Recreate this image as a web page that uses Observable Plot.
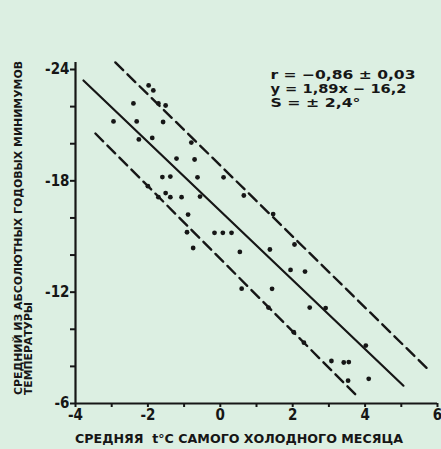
<!DOCTYPE html>
<html>
<head>
<meta charset="utf-8">
<script src="https://cdn.jsdelivr.net/npm/d3@7"></script>
<script src="https://cdn.jsdelivr.net/npm/@observablehq/plot@0.6"></script>
<style>
  html, body { margin: 0; padding: 0; background: #dcefe2; }
  #chart svg { display: block; }
</style>
</head>
<body>
<div id="chart"></div>
<script>
// ---- data ----
const pointX = [-1.98, -1.85, -2.40, -1.71, -1.51, -2.95, -2.31, -1.58, -2.25, -1.88,
                -0.80, -1.21, -0.71, -1.60, -1.38, -0.63, 0.09, -2.00, -1.71, -1.51,
                -1.38, -1.07, -0.56, 0.65, -0.89, 1.46, -0.92, -0.16, 0.07, 0.31,
                -0.75, 0.54, 1.37, 2.05, 1.94, 2.34, 0.59, 1.43, 1.33, 2.47,
                2.91, 2.03, 2.31, 4.02, 3.07, 3.41, 3.55, 3.53, 4.10];
const pointY = [-23.14, -22.87, -22.17, -22.17, -22.06, -21.20, -21.20, -21.17, -20.23, -20.31,
                -20.06, -19.20, -19.15, -18.20, -18.23, -18.19, -18.19, -17.71, -17.12, -17.34,
                -17.12, -17.12, -17.15, -17.21, -16.18, -16.21, -15.23, -15.20, -15.20, -15.20,
                -14.38, -14.17, -14.30, -14.57, -13.20, -13.11, -12.19, -12.18, -11.17, -11.17,
                -11.14, -9.84, -9.28, -9.12, -8.29, -8.21, -8.23, -7.23, -7.33];

// regression line y = 1.89x - 16.2 and the ±S band, endpoints as drawn
const fitX = [-3.78, 5.06];
const fitY = [-23.41, -6.96];
const upperX = [-2.90, 5.72];
const upperY = [-24.38, -7.88];
const lowerX = [-3.45, 3.82];
const lowerY = [-20.55, -6.32];

const xTicks = [-4, -3, -2, -1, 0, 1, 2, 3, 4, 5, 6];
const xTickLabels = ["-4", "", "-2", "", "0", "", "2", "", "4", "", "6"];
const yTicks = [-24, -22, -20, -18, -16, -14, -12, -10, -8, -6];
const yTickLabels = ["-24", "", "", "-18", "", "", "-12", "", "", "-6"];

const annotationLines = ["r = −0,86 ± 0,03", "y = 1,89x − 16,2", "S = ± 2,4°"];
const yTitleLines = ["СРЕДНИЙ ИЗ АБСОЛЮТНЫХ ГОДОВЫХ МИНИМУМОВ", "ТЕМПЕРАТУРЫ"];
const xTitle = "СРЕДНЯЯ  t°C САМОГО ХОЛОДНОГО МЕСЯЦА";

// ---- build ----
const ink = "#161616";
const font = "'DejaVu Sans Condensed', 'DejaVu Sans', sans-serif";
const points = pointX.map((x, i) => ({x, y: pointY[i]}));
const seg = (xs, ys) => xs.map((x, i) => ({x, y: ys[i]}));

const svg = Plot.plot({
  width: 441,
  height: 449,
  marginLeft: 75,
  marginRight: 4,
  marginTop: 69,
  marginBottom: 46,
  x: {domain: [-4, 6]},
  y: {domain: [-24, -6], reverse: true},
  style: {background: "transparent", color: ink, fontFamily: font, overflow: "visible"},
  marks: [
    Plot.ruleX([-4], {y1: -24.38, y2: -6, stroke: ink, strokeWidth: 2.2}),
    Plot.ruleY([-6], {x1: -4, x2: 6, stroke: ink, strokeWidth: 2.2}),
    Plot.axisY({
      ticks: yTicks, tickSize: 5, tickPadding: 1,
      tickFormat: d => yTickLabels[yTicks.indexOf(d)],
      fontSize: 15, fontWeight: "bold", strokeWidth: 2, stroke: ink, fill: ink, label: null
    }),
    Plot.axisX({
      ticks: xTicks, tickSize: 4, tickPadding: 2,
      tickFormat: d => xTickLabels[xTicks.indexOf(d)],
      fontSize: 15, fontWeight: "bold", strokeWidth: 2, stroke: ink, fill: ink, label: null
    }),
    Plot.line(seg(fitX, fitY), {x: "x", y: "y", stroke: ink, strokeWidth: 2.2}),
    Plot.line(seg(upperX, upperY), {x: "x", y: "y", stroke: ink, strokeWidth: 2.4, strokeDasharray: "11,6"}),
    Plot.line(seg(lowerX, lowerY), {x: "x", y: "y", stroke: ink, strokeWidth: 2.4, strokeDasharray: "11,6"}),
    Plot.dot(points, {x: "x", y: "y", r: 2.4, fill: ink, stroke: null}),
    Plot.text([annotationLines.join("\n")], {
      frameAnchor: "top-left", dx: 195, dy: -1, lineAnchor: "top", textAnchor: "start",
      lineHeight: 1.13, fontSize: 12.5, fontWeight: "bold", fill: ink
    })
  ]
});

// axis titles
const s = d3.select(svg);
const yWidths = [334, 93];
const yBase = [21.5, 31.5];
yTitleLines.forEach((t, i) => {
  s.append("text")
    .attr("transform", `translate(${yBase[i]},395) rotate(-90)`)
    .attr("text-anchor", "start")
    .attr("font-size", 10)
    .attr("font-weight", "bold")
    .attr("font-family", font)
    .attr("fill", ink)
    .attr("textLength", yWidths[i])
    .attr("lengthAdjust", "spacingAndGlyphs")
    .text(t);
});
s.append("text")
  .attr("x", 75).attr("y", 443)
  .attr("text-anchor", "start")
  .attr("font-size", 12)
  .attr("font-weight", "bold")
  .attr("font-family", font)
  .attr("fill", ink)
  .attr("textLength", 328)
  .attr("lengthAdjust", "spacingAndGlyphs")
  .text(xTitle);

// fit annotation line widths
const annWidths = [145, 136, 90];
s.selectAll("tspan").each(function() {
  const i = annotationLines.indexOf(this.textContent);
  if (i >= 0) {
    this.setAttribute("textLength", annWidths[i]);
    this.setAttribute("lengthAdjust", "spacingAndGlyphs");
  }
});

document.getElementById("chart").appendChild(svg);
</script>
</body>
</html>
